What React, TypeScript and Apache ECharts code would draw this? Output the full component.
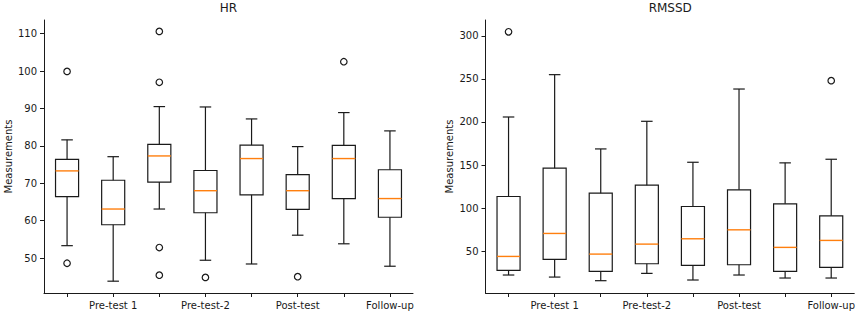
import React, { useEffect, useRef } from "react";
import * as echarts from "echarts";

// ---- data ----
const categories = ["", "Pre-test 1", "", "Pre-test-2", "", "Post-test", "", "Follow-up"];

// [lower whisker, Q1, median, Q3, upper whisker]
const hrBoxes = [
  [53.3, 66.4, 73.3, 76.4, 81.6],
  [43.8, 58.9, 63.1, 70.8, 77.1],
  [63.1, 70.3, 77.3, 80.4, 90.5],
  [49.4, 62.1, 68.0, 73.4, 90.4],
  [48.4, 66.9, 76.6, 80.2, 87.2],
  [56.1, 63.0, 68.0, 72.3, 79.8],
  [53.8, 65.9, 76.6, 80.1, 88.9],
  [47.8, 60.9, 65.9, 73.6, 84.0],
];
// [category index, value]
const hrOutliers = [
  [0, 99.9], [0, 48.6],
  [2, 110.6], [2, 97.0], [2, 52.8], [2, 45.4],
  [3, 44.8],
  [5, 45.0],
  [6, 102.5],
];

const rmssdBoxes = [
  [22.2, 27.6, 43.8, 113.4, 205.8],
  [19.8, 40.3, 70.5, 146.3, 255.0],
  [15.6, 26.4, 46.5, 117.3, 168.7],
  [24.1, 35.3, 58.1, 126.6, 200.8],
  [16.4, 33.4, 64.3, 101.8, 153.2],
  [22.2, 34.1, 74.7, 121.2, 238.3],
  [18.7, 26.4, 54.3, 104.9, 152.5],
  [18.7, 31.1, 62.4, 91.0, 156.7],
];
const rmssdOutliers = [
  [0, 304.8],
  [7, 248.0],
];

const hrTicks = [50, 60, 70, 80, 90, 100, 110];
const rmssdTicks = [50, 100, 150, 200, 250, 300];
const hrRange = [40.64, 113.66];
const rmssdRange = [1.3, 318.5];

const titles = ["HR", "RMSSD"];
const yName = "Measurements";

// ---- styling ----
const FONT = "DejaVu Sans";
const INK = "#1a1a1a";
const MEDIAN = "#ff7f0e";

function renderBox(params: any, api: any) {
  const x = api.value(0);
  const low = api.coord([x, api.value(1)]);
  const q1 = api.coord([x, api.value(2)]);
  const med = api.coord([x, api.value(3)]);
  const q3 = api.coord([x, api.value(4)]);
  const high = api.coord([x, api.value(5)]);
  const band = api.size([1, 0])[0];
  const bw = band * 0.5;
  const cw = bw * 0.5;
  const cx = low[0];
  const lineStyle = { stroke: INK, lineWidth: 1.2, fill: null };
  return {
    type: "group",
    children: [
      { type: "line", shape: { x1: cx, y1: low[1], x2: cx, y2: q1[1] }, style: lineStyle },
      { type: "line", shape: { x1: cx, y1: q3[1], x2: cx, y2: high[1] }, style: lineStyle },
      { type: "line", shape: { x1: cx - cw / 2, y1: low[1], x2: cx + cw / 2, y2: low[1] }, style: lineStyle },
      { type: "line", shape: { x1: cx - cw / 2, y1: high[1], x2: cx + cw / 2, y2: high[1] }, style: lineStyle },
      {
        type: "rect",
        shape: { x: cx - bw / 2, y: q3[1], width: bw, height: q1[1] - q3[1] },
        style: { stroke: INK, lineWidth: 1.2, fill: "none" },
      },
      {
        type: "line",
        shape: { x1: cx - bw / 2, y1: med[1], x2: cx + bw / 2, y2: med[1] },
        style: { stroke: MEDIAN, lineWidth: 1.4 },
      },
    ],
  };
}

export default function App() {
  const ref = useRef<HTMLDivElement>(null);
  useEffect(() => {
    document.body.style.margin = "0";
    const chart = echarts.init(ref.current!, null, { renderer: "svg" });
    const grids = [
      { left: 44, top: 20, width: 369, height: 273 },
      { left: 485.5, top: 20, width: 369.5, height: 273 },
    ];
    const xAxis = [0, 1].map((g) => ({
      type: "category",
      gridIndex: g,
      data: categories,
      boundaryGap: true,
      axisLine: { show: true, lineStyle: { color: INK, width: 1 } },
      axisTick: { show: true, alignWithLabel: true, interval: 0, length: 4, lineStyle: { color: INK } },
      axisLabel: { interval: 0, color: INK, fontFamily: FONT, fontSize: 10, margin: 7 },
      splitLine: { show: false },
    }));
    const ranges = [hrRange, rmssdRange];
    const ticks = [hrTicks, rmssdTicks];
    const yAxis = [0, 1].map((g) => ({
      type: "value",
      gridIndex: g,
      min: ranges[g][0],
      max: ranges[g][1],
      name: yName,
      nameLocation: "middle",
      nameGap: 31,
      nameTextStyle: { color: INK, fontFamily: FONT, fontSize: 10 },
      axisLine: { show: true, lineStyle: { color: INK, width: 1 } },
      axisTick: { show: true, length: 4, customValues: ticks[g], lineStyle: { color: INK } },
      axisLabel: { color: INK, fontFamily: FONT, fontSize: 10, margin: 7, customValues: ticks[g] },
      splitLine: { show: false },
    }));
    const boxes = [hrBoxes, rmssdBoxes];
    const outliers = [hrOutliers, rmssdOutliers];
    const series: any[] = [];
    [0, 1].forEach((g) => {
      series.push({
        type: "custom",
        xAxisIndex: g,
        yAxisIndex: g,
        renderItem: renderBox,
        encode: { x: 0, y: [1, 2, 3, 4, 5] },
        data: boxes[g].map((b, i) => [i, ...b]),
        silent: true,
      });
      series.push({
        type: "scatter",
        xAxisIndex: g,
        yAxisIndex: g,
        symbol: "circle",
        symbolSize: 6.5,
        itemStyle: { color: "#fff", borderColor: INK, borderWidth: 1.2, opacity: 1 },
        data: outliers[g],
        silent: true,
      });
    });
    chart.setOption({
      animation: false,
      backgroundColor: "#fff",
      title: [0, 1].map((g) => ({
        text: titles[g],
        left: grids[g].left + grids[g].width / 2,
        textAlign: "center",
        top: 2,
        padding: 0,
        textStyle: { color: INK, fontFamily: FONT, fontSize: 12, fontWeight: "normal" },
      })),
      grid: grids,
      xAxis,
      yAxis,
      series,
    });
    return () => chart.dispose();
  }, []);
  return <div ref={ref} style={{ width: 858, height: 313 }} />;
}
